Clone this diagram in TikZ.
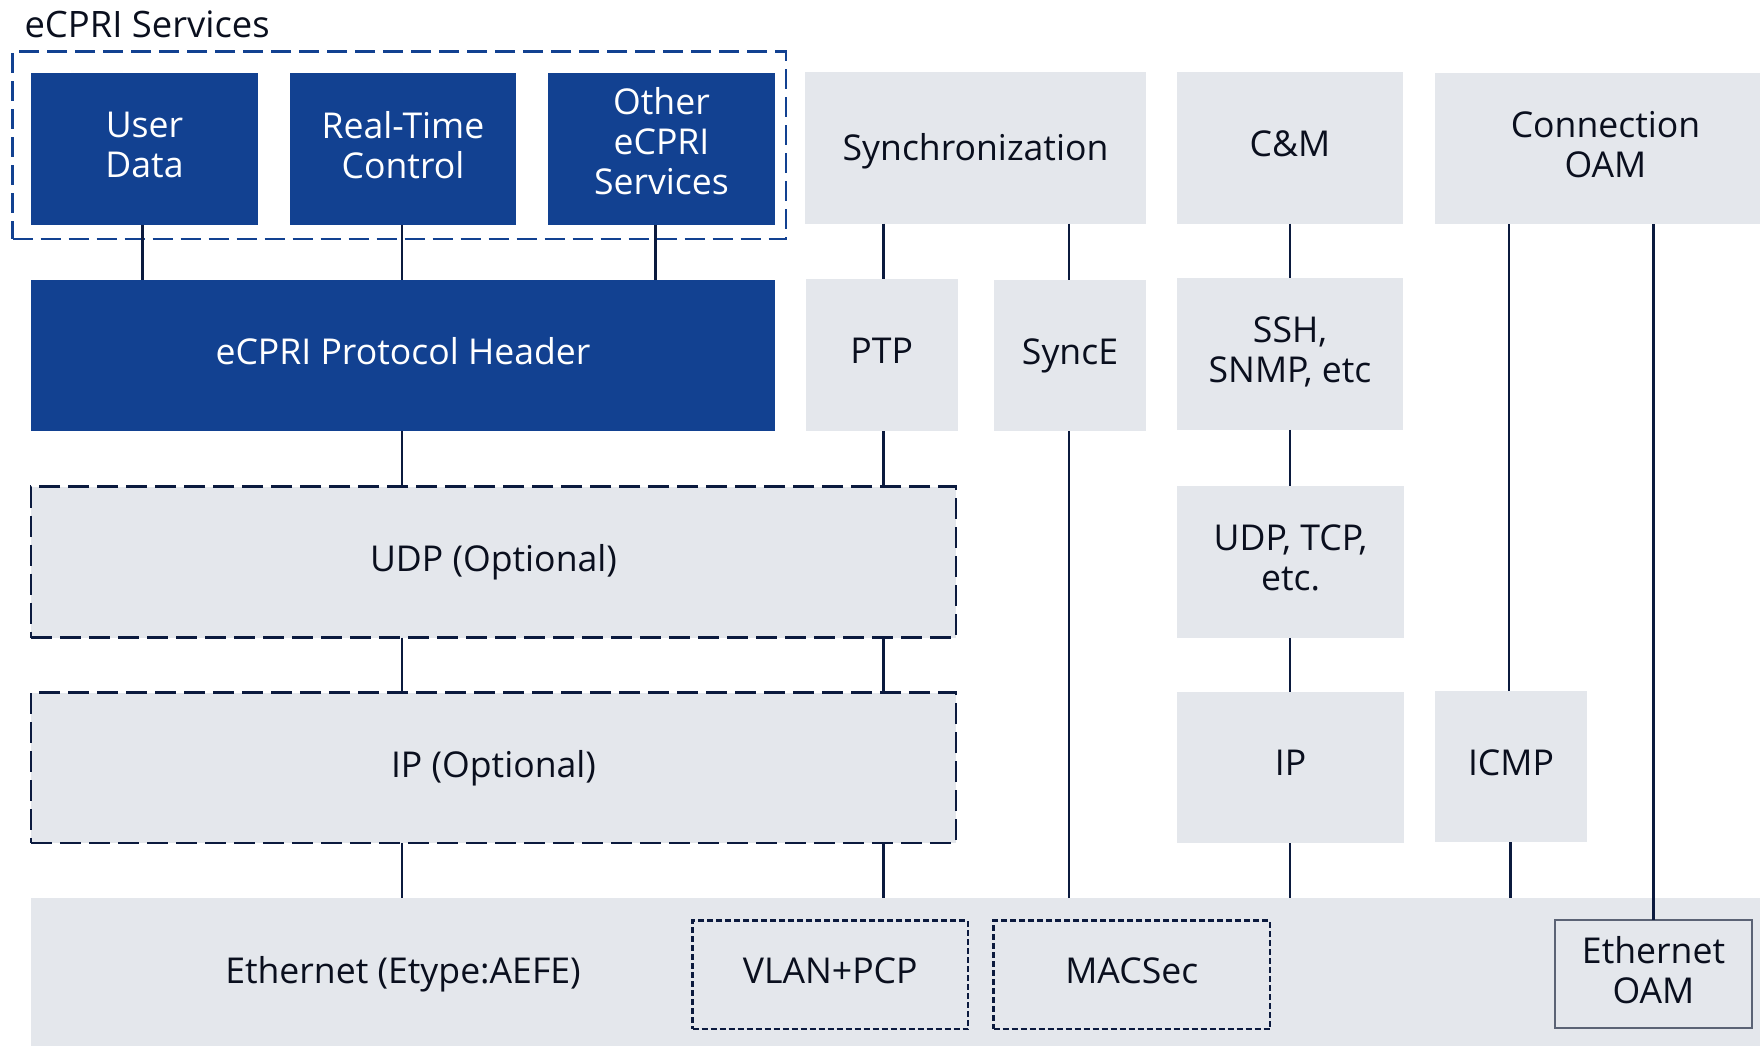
\documentclass[tikz,border=0pt]{standalone}
\usepackage{fontspec}
\setmainfont{Open Sans}
\definecolor{nblue}{HTML}{124191}
\definecolor{ngray}{HTML}{E4E7EC}
\definecolor{navy}{HTML}{0B1A3E}
\definecolor{ink}{HTML}{0A0F1E}
\definecolor{oamgray}{HTML}{5B6375}
\begin{document}
\begin{tikzpicture}[x=1pt,y=-1pt,
  base/.style={inner sep=0pt, outer sep=0pt, align=center,
    font=\fontsize{35.6}{40}\selectfont, execute at end node={\vphantom{gy}}},
  bluebox/.style={base, fill=nblue, text=white},
  graybox/.style={base, fill=ngray, text=ink},
  optbox/.style={graybox, draw=navy, line width=2.7pt, dash pattern=on 21pt off 8pt},
  fineopt/.style={graybox, draw=navy, line width=2.2pt, dash pattern=on 6pt off 3pt},
  oambox/.style={graybox, draw=oamgray, line width=2.7pt},
  group/.style={draw=nblue, line width=2.3pt, dash pattern=on 20pt off 8pt, inner sep=0pt},
  link/.style={draw=navy, line width=2.6pt},
  sz/.style 2 args={minimum width=#1, minimum height=#2}]
\useasboundingbox (0,0) rectangle (1760,1045);

% eCPRI services group
\node[group, sz={773.5}{187.5}] (svc) at (399.25,145.25) {};
\node[base, anchor=base west, text=ink, font=\fontsize{36.4}{40}\selectfont,
  execute at end node={}] (svctitle) at (24.5,37) {eCPRI Services};

% eCPRI stack
\node[bluebox, sz={227}{152}] (ud)  at (144.5,149) {User\\Data};
\node[bluebox, sz={226}{152}] (rt)  at (403,149) {Real-Time\\Control};
\node[bluebox, sz={227}{152}, execute at end node={\rule[-15.5pt]{0pt}{1pt}}] (oth) at (661.5,149) {Other\\eCPRI\\Services};
\node[bluebox, sz={744}{151}] (hdr) at (403,355.5) {eCPRI Protocol Header};
\node[optbox, sz={925}{151}] (udp)   at (493.5,562) {UDP (Optional)};
\node[optbox, sz={925}{150.5}] (ipopt) at (493.5,767.75) {IP (Optional)};

% synchronization
\node[graybox, sz={341}{151.5}, execute at end node={\rule{0pt}{34pt}}] (sync) at (975.5,147.75) {Synchronization};
\node[graybox, sz={151.5}{152}] (ptp)   at (881.75,355) {PTP};
\node[graybox, sz={152}{151.5}] (synce) at (1070,355.5) {SyncE};

% control and management
\node[graybox, sz={226}{151.5}] (cm)     at (1290,147.75) {C\&M};
\node[graybox, sz={226}{151.5}] (ssh)    at (1290,354) {SSH,\\SNMP, etc};
\node[graybox, sz={227}{151.5}] (udptcp) at (1290.5,562) {UDP, TCP,\\etc.};
\node[graybox, sz={227}{151}]   (ip)     at (1290.5,767.5) {IP};

% connection OAM
\node[graybox, sz={341}{151}] (coam) at (1605.5,148.5) {Connection\\OAM};
\node[graybox, sz={152}{151}] (icmp) at (1511,766.5) {ICMP};

% Ethernet layer
\node[graybox, sz={1749}{167.5}] (eth) at (905.5,981.25) {};
\node[base, text=ink] (ethtxt) at (403,974) {Ethernet (Etype:AEFE)};
\node[fineopt, sz={275.5}{108.5}] (vlan)   at (830.25,974.75) {VLAN+PCP};
\node[fineopt, sz={276.5}{108.5}] (macsec) at (1131.75,974.75) {MACSec};
\node[oambox, sz={197}{108}] (eoam) at (1653.5,974) {Ethernet\\OAM};

% connectors
\draw[link] ([xshift=-2pt]ud.south) -- ([xshift=-2pt]ud.south |- hdr.north);
\draw[link] ([xshift=-1pt]rt.south) -- ([xshift=-1pt]rt.south |- hdr.north);
\draw[link] ([xshift=-6pt]oth.south) -- ([xshift=-6pt]oth.south |- hdr.north);
\draw[link] ([xshift=-1pt]hdr.south) -- ([xshift=-1pt]hdr.south |- udp.north);
\draw[link] ([xshift=2pt]ptp.north |- sync.south) -- ([xshift=2pt]ptp.north);
\draw[link] ([xshift=2pt]ptp.south) -- ([xshift=2pt]ptp.south |- udp.north);
\draw[link] ([xshift=-1pt]hdr.south |- udp.south) -- ([xshift=-1pt]hdr.south |- ipopt.north);
\draw[link] ([xshift=2pt]ptp.south |- udp.south) -- ([xshift=2pt]ptp.south |- ipopt.north);
\draw[link] ([xshift=-1pt]hdr.south |- ipopt.south) -- ([xshift=-1pt]hdr.south |- eth.north);
\draw[link] ([xshift=2pt]ptp.south |- ipopt.south) -- ([xshift=2pt]ptp.south |- eth.north);
\draw[link] ([xshift=-1pt]synce.north |- sync.south) -- ([xshift=-1pt]synce.north);
\draw[link] ([xshift=-1pt]synce.south) -- ([xshift=-1pt]synce.south |- eth.north);
\draw[link] (cm.south) -- (ssh.north);
\draw[link] (ssh.south) -- (ssh.south |- udptcp.north);
\draw[link] ([xshift=-0.5pt]udptcp.south) -- ([xshift=-0.5pt]ip.north);
\draw[link] ([xshift=-0.5pt]ip.south) -- ([xshift=-0.5pt]ip.south |- eth.north);
\draw[link] ([xshift=-2pt]icmp.north |- coam.south) -- ([xshift=-2pt]icmp.north);
\draw[link] ([xshift=-0.5pt]icmp.south) -- ([xshift=-0.5pt]icmp.south |- eth.north);
\draw[link] (eoam.north |- coam.south) -- (eoam.north);
\end{tikzpicture}
\end{document}
